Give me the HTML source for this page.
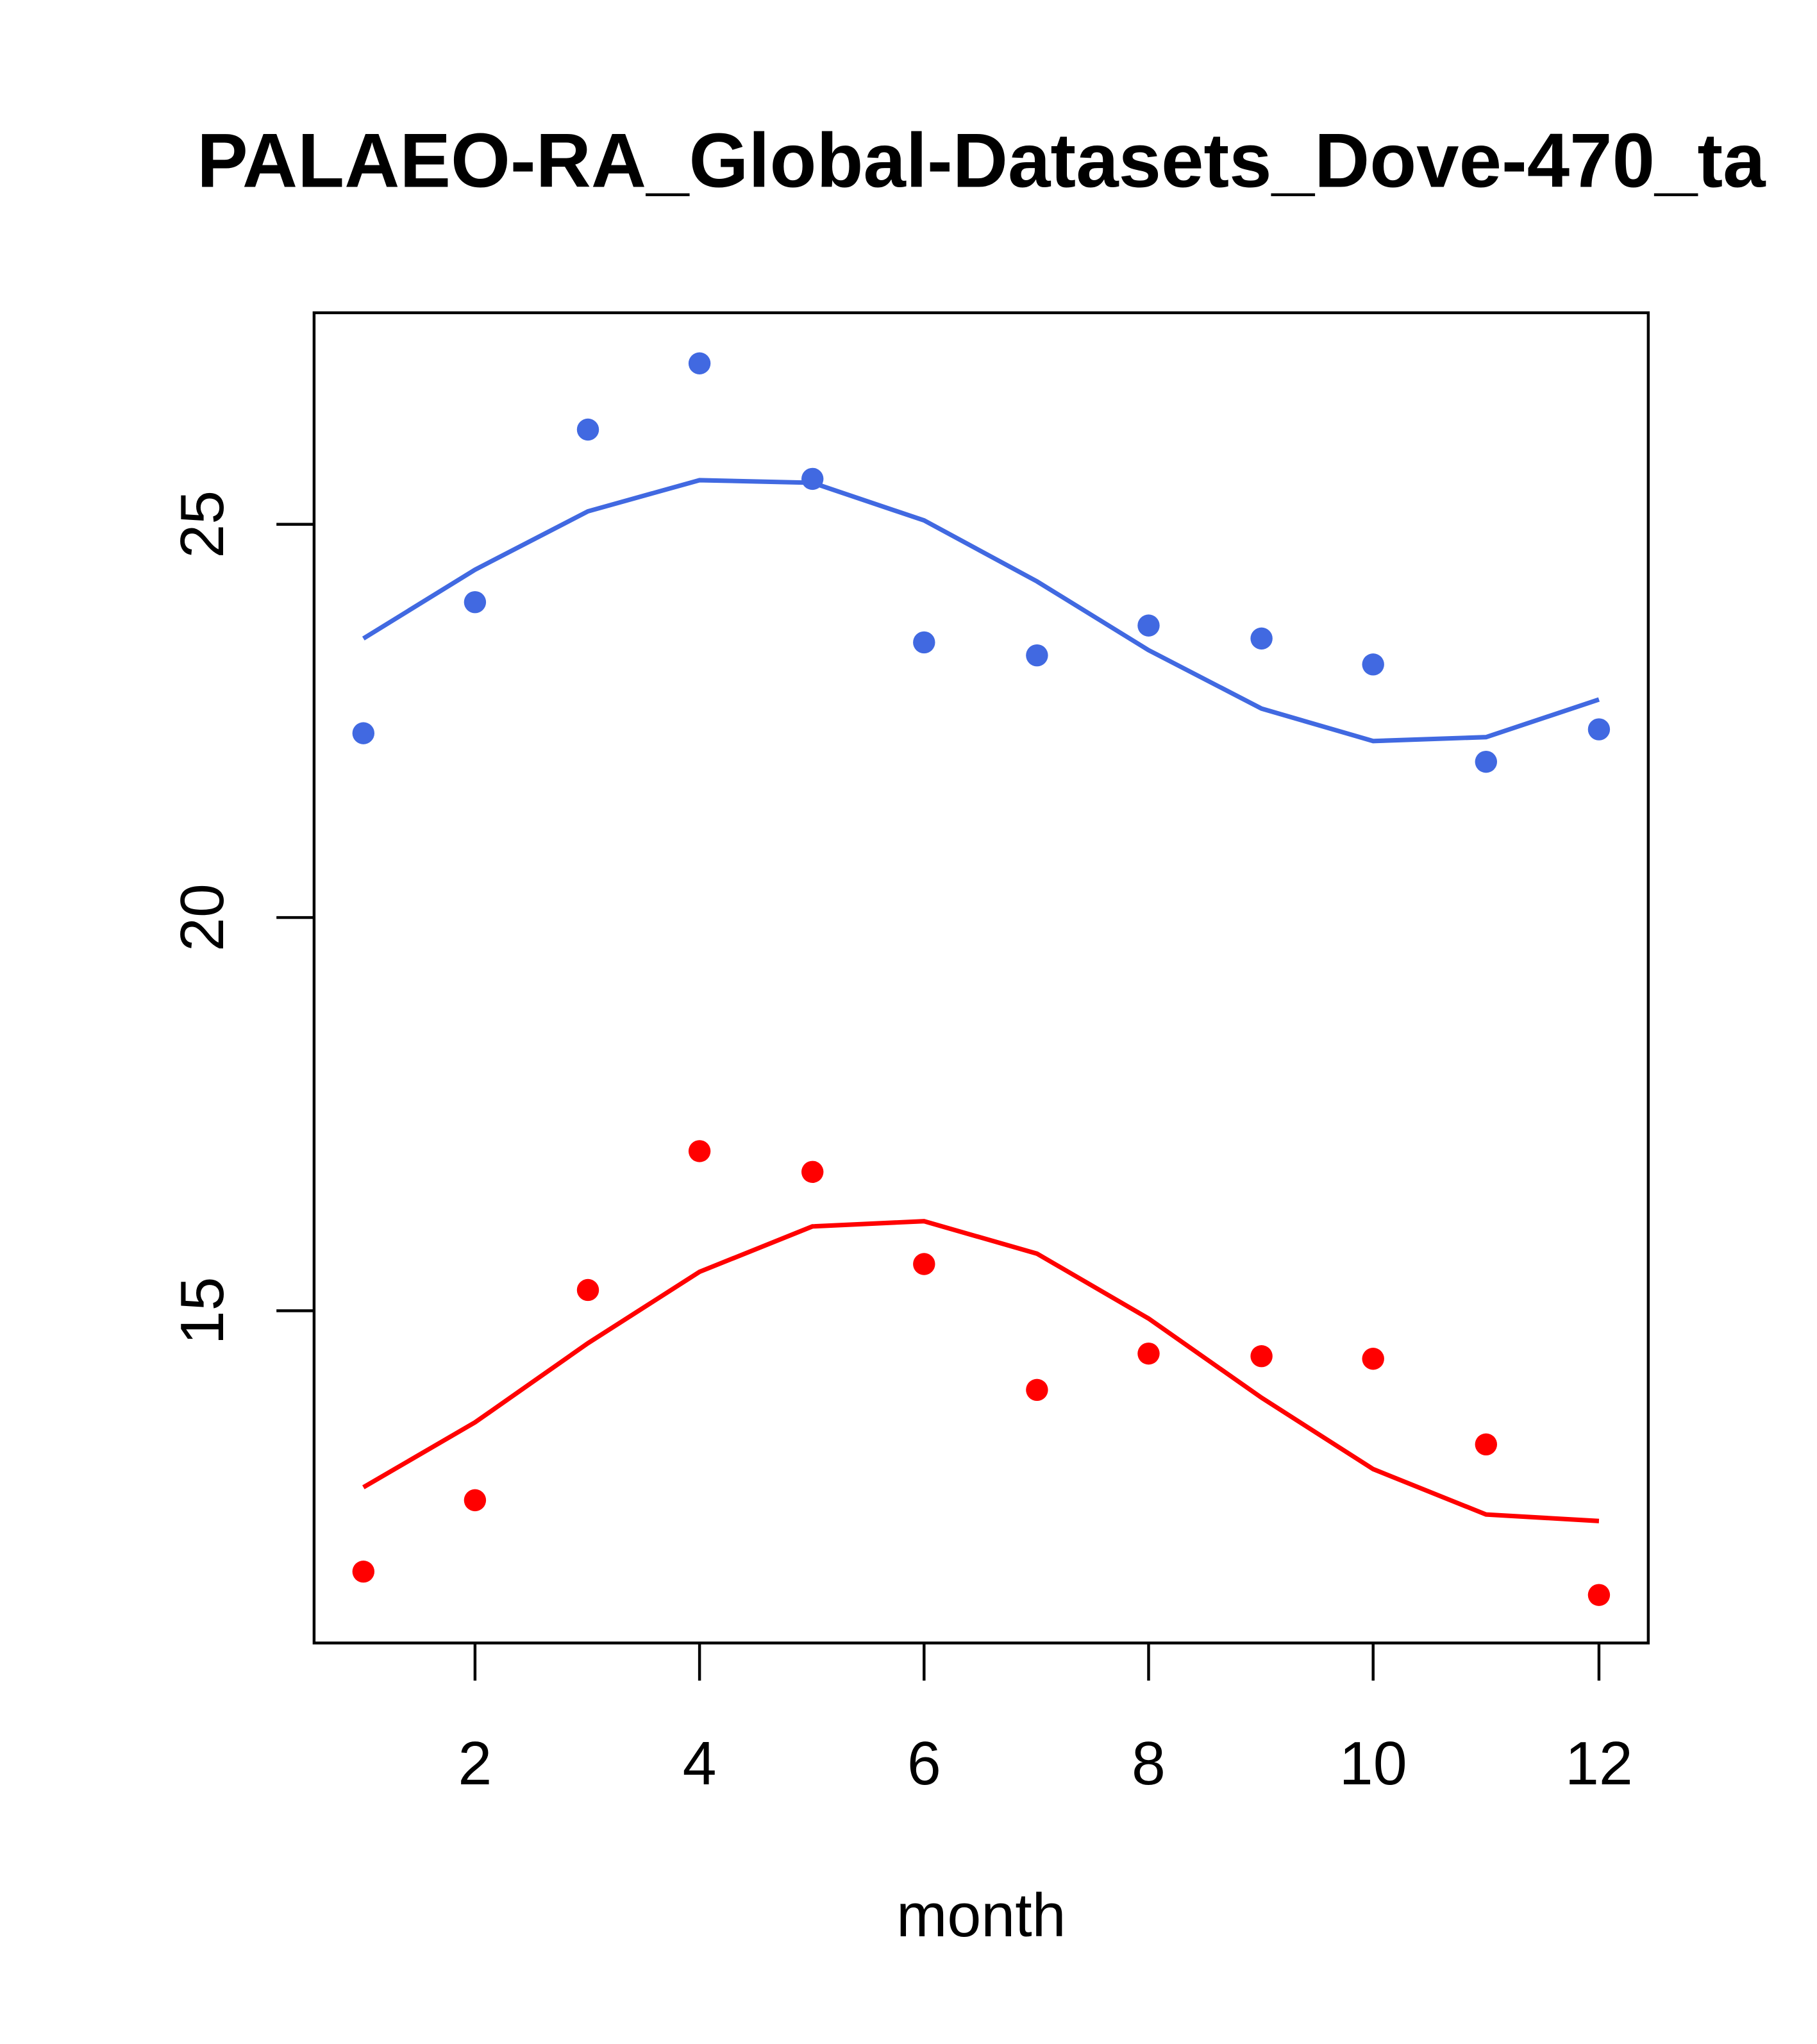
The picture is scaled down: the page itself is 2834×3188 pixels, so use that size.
<!DOCTYPE html>
<html><head><style>html,body{margin:0;padding:0;background:#fff}svg{display:block}</style></head>
<body>
<svg width="2834" height="3188" viewBox="0 0 1400 1575" preserveAspectRatio="none" xmlns="http://www.w3.org/2000/svg" font-family="Liberation Sans, sans-serif">
<rect width="1400" height="1575" fill="#fff"/>
<text x="756" y="144" text-anchor="middle" font-size="59" font-weight="bold">PALAEO-RA_Global-Datasets_Dove-470_ta</text>
<rect x="242" y="241" width="1028" height="1025" fill="none" stroke="#000" stroke-width="2.2"/>
<g stroke="#000" stroke-width="2.2">
<line x1="366" y1="1266" x2="366" y2="1295"/><line x1="539" y1="1266" x2="539" y2="1295"/><line x1="712" y1="1266" x2="712" y2="1295"/><line x1="885" y1="1266" x2="885" y2="1295"/><line x1="1058" y1="1266" x2="1058" y2="1295"/><line x1="1232" y1="1266" x2="1232" y2="1295"/>
<line x1="242" y1="404" x2="213" y2="404"/><line x1="242" y1="707" x2="213" y2="707"/><line x1="242" y1="1010" x2="213" y2="1010"/>
</g>
<g font-size="47" text-anchor="middle">
<text x="366" y="1375">2</text><text x="539" y="1375">4</text><text x="712" y="1375">6</text><text x="885" y="1375">8</text><text x="1058" y="1375">10</text><text x="1232" y="1375">12</text>
<text transform="translate(172,404) rotate(-90)">25</text><text transform="translate(172,707) rotate(-90)">20</text><text transform="translate(172,1010) rotate(-90)">15</text>
<text x="756" y="1492">month</text>
</g>
<polyline fill="none" stroke="#4169e1" stroke-width="3.5" points="280,492 366,439 453,394 539,370 626,372 712,401 799,448 885,501 972,546 1058,571 1145,568 1232,539"/>
<polyline fill="none" stroke="#ff0000" stroke-width="3.5" points="280,1146 366,1096 453,1035 539,980 626,945 712,941 799,966 885,1016 972,1077 1058,1132 1145,1167 1232,1172"/>
<g fill="#4169e1">
<circle cx="280" cy="565" r="8.5"/><circle cx="366" cy="464" r="8.5"/><circle cx="453" cy="331" r="8.5"/><circle cx="539" cy="280" r="8.5"/><circle cx="626" cy="369" r="8.5"/><circle cx="712" cy="495" r="8.5"/><circle cx="799" cy="505" r="8.5"/><circle cx="885" cy="482" r="8.5"/><circle cx="972" cy="492" r="8.5"/><circle cx="1058" cy="512" r="8.5"/><circle cx="1145" cy="587" r="8.5"/><circle cx="1232" cy="562" r="8.5"/>
</g>
<g fill="#ff0000">
<circle cx="280" cy="1211" r="8.5"/><circle cx="366" cy="1156" r="8.5"/><circle cx="453" cy="994" r="8.5"/><circle cx="539" cy="887" r="8.5"/><circle cx="626" cy="903" r="8.5"/><circle cx="712" cy="974" r="8.5"/><circle cx="799" cy="1071" r="8.5"/><circle cx="885" cy="1043" r="8.5"/><circle cx="972" cy="1045" r="8.5"/><circle cx="1058" cy="1047" r="8.5"/><circle cx="1145" cy="1113" r="8.5"/><circle cx="1232" cy="1229" r="8.5"/>
</g>
</svg>
</body></html>
